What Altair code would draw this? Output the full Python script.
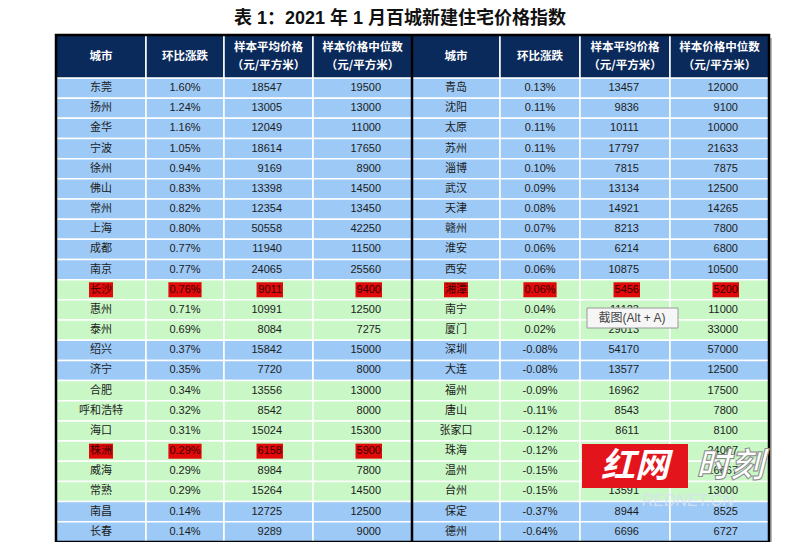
import altair as alt
import pandas as pd

# ---------------- data ----------------
title_text = "表 1：2021 年 1 月百城新建住宅价格指数"
header_lines = [["城市"], ["环比涨跌"], ["样本平均价格", "（元/平方米）"], ["样本价格中位数", "（元/平方米）"]]

left_city = ["东莞", "扬州", "金华", "宁波", "徐州", "佛山", "常州", "上海", "成都", "南京",
             "长沙", "惠州", "泰州", "绍兴", "济宁", "合肥", "呼和浩特", "海口", "株洲", "威海",
             "常熟", "南昌", "长春"]
left_change = ["1.60%", "1.24%", "1.16%", "1.05%", "0.94%", "0.83%", "0.82%", "0.80%", "0.77%", "0.77%",
               "0.76%", "0.71%", "0.69%", "0.37%", "0.35%", "0.34%", "0.32%", "0.31%", "0.29%", "0.29%",
               "0.29%", "0.14%", "0.14%"]
left_avg = [18547, 13005, 12049, 18614, 9169, 13398, 12354, 50558, 11940, 24065,
            9011, 10991, 8084, 15842, 7720, 13556, 8542, 15024, 6158, 8984,
            15264, 12725, 9289]
left_median = [19500, 13000, 11000, 17650, 8900, 14500, 13450, 42250, 11500, 25560,
               9400, 12500, 7275, 15000, 8000, 13000, 8000, 15300, 5900, 7800,
               14500, 12500, 9000]

right_city = ["青岛", "沈阳", "太原", "苏州", "淄博", "武汉", "天津", "赣州", "淮安", "西安",
              "湘潭", "南宁", "厦门", "深圳", "大连", "福州", "唐山", "张家口", "珠海", "温州",
              "台州", "保定", "德州"]
right_change = ["0.13%", "0.11%", "0.11%", "0.11%", "0.10%", "0.09%", "0.08%", "0.07%", "0.06%", "0.06%",
                "0.06%", "0.04%", "0.02%", "-0.08%", "-0.08%", "-0.09%", "-0.11%", "-0.12%", "-0.12%", "-0.15%",
                "-0.15%", "-0.37%", "-0.64%"]
right_avg = [13457, 9836, 10111, 17797, 7815, 13134, 14921, 8213, 6214, 10875,
             5456, 11123, 29013, 54170, 13577, 16962, 8543, 8611, 24589, 17230,
             13591, 8944, 6696]
right_median = [12000, 9100, 10000, 21633, 7875, 12500, 14265, 7800, 6800, 10500,
                5200, 11000, 33000, 57000, 12500, 17500, 7800, 8100, 24067, 16667,
                13000, 8525, 6727]

row_group = ["blue"] * 10 + ["green"] * 3 + ["blue"] * 2 + ["green"] * 6 + ["blue"] * 2
highlighted = {"长沙", "株洲", "湘潭"}

# ---------------- layout / style ----------------
X_LEFT = [56, 146, 224, 313, 412]
X_RIGHT = [412, 500, 580, 670, 769]
HEAD_TOP, BODY_TOP, ROW_H = 35, 78, 20.17
N = len(left_city)
BOTTOM = BODY_TOP + N * ROW_H
FILL = {"blue": "#9CC9F6", "green": "#C9F7C6"}
NAVY = "#0B2A5C"
RED = "#E10A0A"
FONT = "Liberation Sans, Noto Sans CJK SC, sans-serif"
CJK = "Noto Sans CJK SC, sans-serif"


def tw(s):
    w = 0.0
    for ch in s:
        if ch.isdigit():
            w += 6.12
        elif ch == ".":
            w += 3.06
        elif ch == "%":
            w += 9.78
        elif ch == "-":
            w += 3.66
        else:
            w += 11.0
    return w


rows = []
for edges, city, chg, avg, med in [(X_LEFT, left_city, left_change, left_avg, left_median),
                                    (X_RIGHT, right_city, right_change, right_avg, right_median)]:
    for i in range(N):
        y0 = BODY_TOP + i * ROW_H
        y1 = y0 + ROW_H
        yc = (y0 + y1) / 2
        hl = city[i] in highlighted
        texts = [city[i], chg[i], str(avg[i]), str(med[i])]
        for c in range(4):
            x0, x1 = edges[c], edges[c + 1]
            t = texts[c]
            w = tw(t)
            if c < 2:
                anchor = "center"
                xt = (x0 + x1) / 2
                hx0, hx1 = xt - w / 2 - 1, xt + w / 2 + 1
            else:
                anchor = "right"
                xt = x1 - 31
                hx0, hx1 = xt - w - 1, xt + 1
            rows.append(dict(x0=x0, x1=x1, y0=y0, y1=y1, yc=yc, xt=xt, text=t, anchor=anchor,
                             fill=FILL[row_group[i]], hl=hl, hx0=hx0, hx1=hx1,
                             hy0=yc - 7.5, hy1=yc + 7.5,
                             tcolor="#3a0000" if hl else "#1c1c1c"))
cells = pd.DataFrame(rows)

hrows, htext = [], []
for edges in (X_LEFT, X_RIGHT):
    for c in range(4):
        x0, x1 = edges[c], edges[c + 1]
        hrows.append(dict(x0=x0, x1=x1, y0=HEAD_TOP, y1=BODY_TOP))
        lines = header_lines[c]
        if len(lines) == 1:
            htext.append(dict(x=(x0 + x1) / 2, y=(HEAD_TOP + BODY_TOP) / 2, text=lines[0]))
        else:
            htext.append(dict(x=(x0 + x1) / 2, y=48, text=lines[0]))
            htext.append(dict(x=(x0 + x1) / 2, y=66, text=lines[1]))
hdr = pd.DataFrame(hrows)
hdr_txt = pd.DataFrame(htext)

xs = alt.Scale(domain=[8, 800], range=[0, 792], nice=False, zero=False)
ys = alt.Scale(domain=[8, 542], range=[0, 534], nice=False, zero=False)


def X(f):
    return alt.X(f"{f}:Q", scale=xs, axis=None)


def Y(f):
    return alt.Y(f"{f}:Q", scale=ys, axis=None)


shadow = alt.Chart(pd.DataFrame([dict(x0=X_LEFT[0] + 3, x1=X_RIGHT[-1] + 3, y0=HEAD_TOP + 3, y1=BOTTOM + 3)])).mark_rect(
    color="#9a9a9a", opacity=0.7).encode(x=X("x0"), x2="x1", y=Y("y0"), y2="y1")

bg = alt.Chart(cells).mark_rect(stroke="white", strokeWidth=1.5).encode(
    x=X("x0"), x2="x1", y=Y("y0"), y2="y1", color=alt.Color("fill:N", scale=None))

hl = alt.Chart(cells[cells.hl]).mark_rect(color=RED).encode(
    x=X("hx0"), x2="hx1", y=Y("hy0"), y2="hy1")

txt_c = alt.Chart(cells[cells.anchor == "center"]).mark_text(
    align="center", baseline="middle", fontSize=11, font=FONT).encode(
    x=X("xt"), y=Y("yc"), text="text:N", color=alt.Color("tcolor:N", scale=None))
txt_r = alt.Chart(cells[cells.anchor == "right"]).mark_text(
    align="right", baseline="middle", fontSize=11, font=FONT).encode(
    x=X("xt"), y=Y("yc"), text="text:N", color=alt.Color("tcolor:N", scale=None))

hdr_bg = alt.Chart(hdr).mark_rect(color=NAVY, stroke="white", strokeWidth=1.5).encode(
    x=X("x0"), x2="x1", y=Y("y0"), y2="y1")
hdr_t = alt.Chart(hdr_txt).mark_text(align="center", baseline="middle", fontSize=11.5,
                                     fontWeight="bold", font=CJK, color="white").encode(
    x=X("x"), y=Y("y"), text="text:N")

border = alt.Chart(pd.DataFrame([dict(x0=X_LEFT[0], x1=X_RIGHT[-1], y0=HEAD_TOP, y1=BOTTOM)])).mark_rect(
    fillOpacity=0, stroke="black", strokeWidth=2.5).encode(x=X("x0"), x2="x1", y=Y("y0"), y2="y1")
mid = alt.Chart(pd.DataFrame([dict(x=X_LEFT[-1], y0=HEAD_TOP, y1=BOTTOM)])).mark_rule(
    color="black", strokeWidth=2.5).encode(x=X("x"), y=Y("y0"), y2="y1")

title = alt.Chart(pd.DataFrame([dict(x=400, y=19, text=title_text)])).mark_text(
    align="center", baseline="middle", fontSize=18, fontWeight="bold", font=FONT, color="#111").encode(
    x=X("x"), y=Y("y"), text="text:N")

# screenshot tooltip overlay
tip_box = alt.Chart(pd.DataFrame([dict(x0=587, x1=678, y0=308, y1=328)])).mark_rect(
    color="#f6f6f6", stroke="#9a9a9a", strokeWidth=1).encode(x=X("x0"), x2="x1", y=Y("y0"), y2="y1")
tip_t = alt.Chart(pd.DataFrame([dict(x=632, y=318, text="截图(Alt + A)")])).mark_text(
    align="center", baseline="middle", fontSize=12, font=FONT, color="#444").encode(
    x=X("x"), y=Y("y"), text="text:N")

# watermark
wm_box = alt.Chart(pd.DataFrame([dict(x0=582, x1=688, y0=444, y1=488)])).mark_rect(
    color="#E3141C").encode(x=X("x0"), x2="x1", y=Y("y0"), y2="y1")
wm_t1 = alt.Chart(pd.DataFrame([dict(x=635, y=467, text="红网")])).mark_text(
    align="center", baseline="middle", fontSize=34, fontWeight="bold", fontStyle="italic",
    font=CJK, color="white").encode(x=X("x"), y=Y("y"), text="text:N")
wm_t2 = alt.Chart(pd.DataFrame([dict(x=730, y=467, text="时刻")])).mark_text(
    align="center", baseline="middle", fontSize=34, fontWeight="bold", fontStyle="italic",
    font=CJK, color="white", stroke="#8a8a8a", strokeWidth=1).encode(x=X("x"), y=Y("y"), text="text:N")
wm_t3 = alt.Chart(pd.DataFrame([dict(x=688, y=501, text="REDNET.CN")])).mark_text(
    align="center", baseline="middle", fontSize=16, fontStyle="italic", font=FONT,
    color="#d8e2f2", opacity=0.9).encode(x=X("x"), y=Y("y"), text="text:N")

chart = alt.layer(shadow, bg, hl, txt_c, txt_r, hdr_bg, hdr_t, border, mid, title,
                  tip_box, tip_t, wm_box, wm_t1, wm_t2, wm_t3).properties(
    width=792, height=534, padding=0, autosize=alt.AutoSizeParams(type="none")
).configure_view(stroke=None)

chart.save("out.html", embed_options={"renderer": "svg", "actions": False})
